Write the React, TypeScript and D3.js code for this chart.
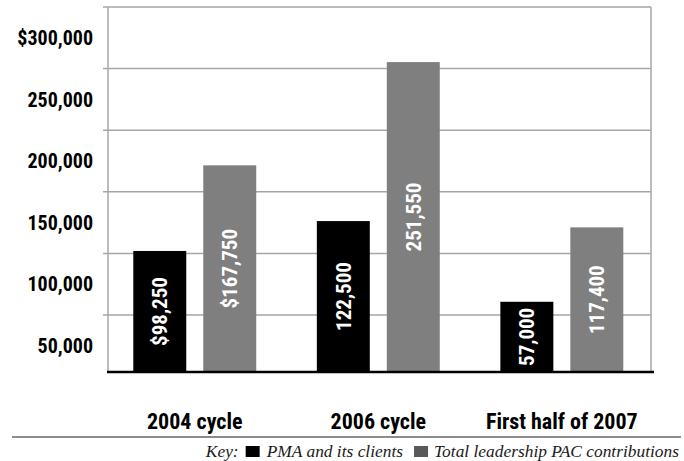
import React, { useEffect, useRef } from "react";
import * as d3 from "d3";

const categories = ["2004 cycle", "2006 cycle", "First half of 2007"];
const pmaValues = [98250, 122500, 57000];
const totalValues = [167750, 251550, 117400];
const seriesNames = ["PMA and its clients", "Total leadership PAC contributions"];
const yTickValues = [300000, 250000, 200000, 150000, 100000, 50000];

const W = 684;
const H = 461;
const COND = "Roboto Condensed";
const SERIF = "Liberation Serif";

export default function App() {
  const ref = useRef<SVGSVGElement | null>(null);

  useEffect(() => {
    const svg = d3.select(ref.current);
    svg.selectAll("*").remove();

    const plotLeft = 108;
    const plotRight = 651;
    const baseY = 372;
    const topY = 7;

    const y = d3.scaleLinear().domain([0, 300000]).range([baseY, baseY - 369.6]);
    const yBand = d3.scaleBand<number>().domain(yTickValues).range([topY, 376.6]);
    const x0 = d3.scaleBand<string>().domain(categories).range([103, 653.6]);
    const x1 = d3
      .scaleBand<string>()
      .domain(seriesNames)
      .range([30.3, x0.bandwidth() - 30.3])
      .paddingInner(0.243);
    const color = d3.scaleOrdinal<string, string>().domain(seriesNames).range(["#000000", "#7f7f7f"]);

    // gridlines
    svg
      .append("g")
      .selectAll("line")
      .data(yTickValues)
      .join("line")
      .attr("x1", plotLeft - 5)
      .attr("x2", plotRight)
      .attr("y1", (d) => yBand(d)!)
      .attr("y2", (d) => yBand(d)!)
      .attr("stroke", "#a6a6a6")
      .attr("stroke-width", 1.5);

    // vertical axis lines
    [plotLeft, plotRight].forEach((xx) => {
      svg
        .append("line")
        .attr("x1", xx)
        .attr("x2", xx)
        .attr("y1", topY)
        .attr("y2", baseY)
        .attr("stroke", "#a6a6a6")
        .attr("stroke-width", 1.5);
    });

    // y labels
    const fmt = d3.format(",");
    svg
      .append("g")
      .selectAll("text")
      .data(yTickValues)
      .join("text")
      .attr("x", 93)
      .attr("y", (d) => yBand(d)! + yBand.bandwidth() / 2)
      .attr("dy", "0.36em")
      .attr("text-anchor", "end")
      .attr("font-family", COND)
      .attr("font-weight", "bold")
      .attr("font-size", 20)
      .attr("fill", "#000")
      .text((d, i) => (i === 0 ? "$" : "") + fmt(d));

    // bars
    const rows = categories.map((c, i) => ({
      cat: c,
      idx: i,
      vals: [
        { s: seriesNames[0], v: pmaValues[i] },
        { s: seriesNames[1], v: totalValues[i] },
      ],
    }));

    const groups = svg
      .append("g")
      .selectAll("g")
      .data(rows)
      .join("g")
      .attr("transform", (d) => `translate(${x0(d.cat)},0)`);

    groups
      .selectAll("rect")
      .data((d) => d.vals)
      .join("rect")
      .attr("x", (d) => x1(d.s)!)
      .attr("width", x1.bandwidth())
      .attr("y", (d) => y(d.v))
      .attr("height", (d) => baseY - y(d.v))
      .attr("fill", (d) => color(d.s));

    groups.each(function (row) {
      d3.select(this)
        .selectAll("text")
        .data(row.vals)
        .join("text")
        .attr("transform", (d) => {
          const cx = x1(d.s)! + x1.bandwidth() / 2;
          const cy = (y(d.v) + baseY) / 2;
          return `translate(${cx},${cy}) rotate(-90)`;
        })
        .attr("text-anchor", "middle")
        .attr("dy", "0.36em")
        .attr("font-family", COND)
        .attr("font-weight", "bold")
        .attr("font-size", 21)
        .attr("fill", "#ffffff")
        .text((d) => (row.idx === 0 ? "$" : "") + fmt(d.v));
    });

    // baseline
    svg
      .append("line")
      .attr("x1", plotLeft - 1)
      .attr("x2", 654)
      .attr("y1", baseY)
      .attr("y2", baseY)
      .attr("stroke", "#000")
      .attr("stroke-width", 2.5);

    // category labels
    svg
      .append("g")
      .selectAll("text")
      .data(categories)
      .join("text")
      .attr("x", (d) => x0(d)! + x0.bandwidth() / 2)
      .attr("y", 429)
      .attr("text-anchor", "middle")
      .attr("font-family", COND)
      .attr("font-weight", "bold")
      .attr("font-size", 22)
      .attr("fill", "#000")
      .text((d) => d);

    // separator
    svg
      .append("line")
      .attr("x1", 12)
      .attr("x2", 681)
      .attr("y1", 437)
      .attr("y2", 437)
      .attr("stroke", "#8c8c8c")
      .attr("stroke-width", 2);

    // key (laid out left to right, right-aligned at 679)
    const key = svg.append("g");
    const keyY = 457;
    const items: { type: "text" | "sq"; text?: string; fill?: string; gapAfter: number }[] = [
      { type: "text", text: "Key:", gapAfter: 7 },
      { type: "sq", fill: "#000000", gapAfter: 7 },
      { type: "text", text: seriesNames[0], gapAfter: 11 },
      { type: "sq", fill: "#595959", gapAfter: 6 },
      { type: "text", text: seriesNames[1], gapAfter: 0 },
    ];
    const sqW = 14;
    const sqH = 11;
    const nodes: { w: number; el: any; gapAfter: number }[] = [];
    items.forEach((it) => {
      if (it.type === "text") {
        const t = key
          .append("text")
          .attr("y", keyY)
          .attr("font-family", SERIF)
          .attr("font-style", "italic")
          .attr("font-size", 17.4)
          .attr("fill", "#1a1a1a")
          .text(it.text!);
        const w = (t.node() as SVGTextElement).getComputedTextLength();
        nodes.push({ w, el: t, gapAfter: it.gapAfter });
      } else {
        const r = key
          .append("rect")
          .attr("y", keyY - sqH)
          .attr("width", sqW)
          .attr("height", sqH)
          .attr("fill", it.fill!);
        nodes.push({ w: sqW, el: r, gapAfter: it.gapAfter });
      }
    });
    const total = nodes.reduce((a, n) => a + n.w + n.gapAfter, 0);
    let cx = 679 - total;
    nodes.forEach((n) => {
      n.el.attr("x", cx);
      cx += n.w + n.gapAfter;
    });
  }, []);

  return (
    <svg
      ref={ref}
      width={W}
      height={H}
      style={{ position: "absolute", left: 0, top: 0, background: "#fff" }}
    />
  );
}
